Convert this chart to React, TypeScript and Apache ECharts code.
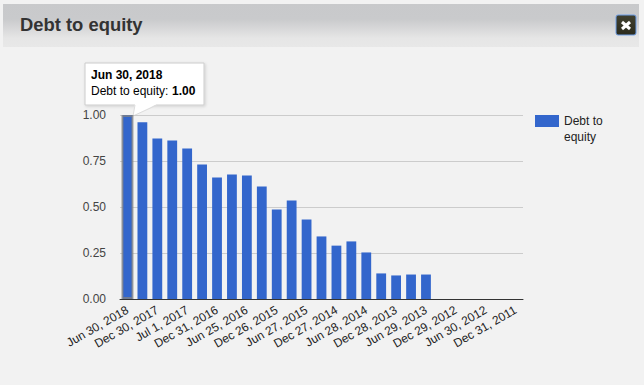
import React, { useEffect, useRef } from "react";
import * as echarts from "echarts";

const categories = [
  "Jun 30, 2018", "Mar 31, 2018", "Dec 30, 2017", "Sep 30, 2017", "Jul 1, 2017", "Apr 1, 2017",
  "Dec 31, 2016", "Oct 1, 2016", "Jun 25, 2016", "Mar 26, 2016", "Dec 26, 2015", "Sep 26, 2015",
  "Jun 27, 2015", "Mar 28, 2015", "Dec 27, 2014", "Sep 27, 2014", "Jun 28, 2014", "Mar 29, 2014",
  "Dec 28, 2013", "Sep 28, 2013", "Jun 29, 2013", "Mar 30, 2013", "Dec 29, 2012", "Sep 29, 2012",
  "Jun 30, 2012", "Mar 31, 2012", "Dec 31, 2011",
];
const values = [
  1.0, 0.96, 0.872, 0.861, 0.818, 0.731, 0.66, 0.677, 0.671, 0.611, 0.486, 0.535, 0.432, 0.34,
  0.29, 0.313, 0.253, 0.139, 0.128, 0.133, 0.133,
];
const selectedValues = [1.0];
const seriesName = "Debt to equity";
const yTicks = [0, 0.25, 0.5, 0.75, 1];
const FONT = "'Liberation Sans', Arial, sans-serif";

export default function App() {
  const ref = useRef<HTMLDivElement>(null);
  useEffect(() => {
    document.body.style.margin = "0";
    document.body.style.background = "#f2f2f2";
    const chart = echarts.init(ref.current!, undefined, { renderer: "svg" });
    chart.setOption({
      animation: false,
      backgroundColor: "#f2f2f2",
      textStyle: { fontFamily: FONT },
      grid: { left: 120, top: 115, width: 403, height: 184, containLabel: false },
      legend: {
        left: 535,
        top: 97,
        padding: 0,
        orient: "vertical",
        icon: "rect",
        itemWidth: 24,
        itemHeight: 12,
        itemGap: 5,
        data: [seriesName],
        formatter: () => "\nDebt to\nequity",
        textStyle: { fontFamily: FONT, fontSize: 12, color: "#222222", lineHeight: 16 },
      },
      xAxis: [
        {
          type: "category",
          data: categories,
          axisTick: { show: false },
          axisLine: { lineStyle: { color: "#333333", width: 1 } },
          axisLabel: { interval: 1, rotate: 30, fontSize: 12, color: "#222222", margin: 10, fontFamily: FONT },
        },
        { type: "category", data: categories, show: false },
      ],
      yAxis: {
        type: "value",
        min: yTicks[0],
        max: yTicks[yTicks.length - 1],
        interval: 0.25,
        axisLine: { show: false },
        axisTick: { show: false },
        splitLine: { lineStyle: { color: "#cccccc", width: 1 } },
        axisLabel: { fontSize: 12, color: "#444444", margin: 14, formatter: (v: number) => v.toFixed(2), fontFamily: FONT },
      },
      series: [
        {
          type: "bar",
          name: seriesName,
          barWidth: 9.8,
          itemStyle: { color: "#3366cc" },
          data: values,
        },
        {
          type: "bar",
          name: "Selected",
          xAxisIndex: 1,
          barWidth: 12,
          z: 3,
          silent: true,
          itemStyle: { color: "transparent", borderColor: "rgba(130,130,130,0.75)", borderWidth: 2 },
          data: selectedValues,
        },
      ],
      graphic: [
        {
          type: "rect",
          silent: true,
          shape: { x: 3, y: 4, width: 636, height: 43 },
          style: {
            fill: new echarts.graphic.LinearGradient(0, 0, 0, 1, [
              { offset: 0, color: "#c8c9cb" },
              { offset: 0.35, color: "#c9cacc" },
              { offset: 0.8, color: "#e6e6e6" },
              { offset: 1, color: "#e8e8e8" },
            ]),
          },
        },
        {
          type: "text",
          x: 20,
          y: 15,
          style: { text: "Debt to equity", font: `bold 18.4px ${FONT}`, fill: "#333333" },
        },
        {
          type: "rect",
          shape: { x: 616, y: 15, width: 20, height: 20, r: 2 },
          style: {
            fill: new echarts.graphic.LinearGradient(0, 0, 0, 1, [
              { offset: 0, color: "#414130" },
              { offset: 1, color: "#2b2b1d" },
            ]),
            stroke: "#6f9fe8",
            lineWidth: 1,
          },
        },
        { type: "line", shape: { x1: 622, y1: 22, x2: 630, y2: 29 }, style: { stroke: "#ffffff", lineWidth: 3 } },
        { type: "line", shape: { x1: 630, y1: 22, x2: 622, y2: 29 }, style: { stroke: "#ffffff", lineWidth: 3 } },
        {
          type: "rect",
          shape: { x: 85, y: 63, width: 119, height: 42 },
          style: {
            fill: "#ffffff",
            stroke: "#cccccc",
            lineWidth: 1,
            shadowBlur: 3,
            shadowColor: "rgba(0,0,0,0.15)",
            shadowOffsetX: 1,
            shadowOffsetY: 1,
          },
        },
        {
          type: "polygon",
          shape: { points: [[135, 104], [157, 104], [133, 116]] },
          style: { fill: "#ffffff" },
        },
        {
          type: "polyline",
          shape: { points: [[157, 105], [133, 116], [135, 105]] },
          style: { stroke: "#dddddd", fill: "none", lineWidth: 1 },
        },
        {
          type: "text",
          x: 91,
          y: 69,
          style: { text: "Jun 30, 2018", font: `bold 12px ${FONT}`, fill: "#000000" },
        },
        {
          type: "text",
          x: 91,
          y: 85,
          style: { text: "Debt to equity:", font: `12px ${FONT}`, fill: "#000000" },
        },
        {
          type: "text",
          x: 172,
          y: 85,
          style: { text: "1.00", font: `bold 12px ${FONT}`, fill: "#000000" },
        },
      ],
    });
    return () => chart.dispose();
  }, []);
  return <div ref={ref} style={{ width: 644, height: 385 }} />;
}
